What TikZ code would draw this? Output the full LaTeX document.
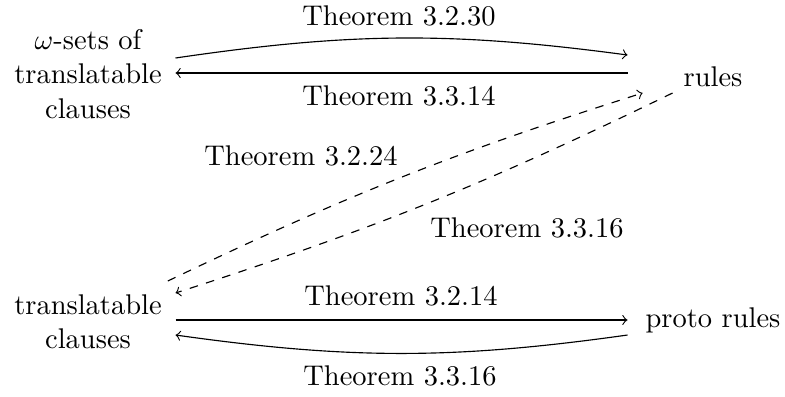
\documentclass[tikz,border=0pt]{standalone}
\usetikzlibrary{calc}
\begin{document}
\begin{tikzpicture}[x=0.351pt,y=-0.351pt,
  obj/.style={align=center,inner sep=3.333pt},
  lbl/.style={inner sep=0pt},
  arr/.style={->},
  darr/.style={->,dashed}]
\useasboundingbox (0,0) rectangle (785,396);
\node[obj] (A) at (88,74) {$\omega$-sets of\\translatable\\clauses};
\node[obj] (R) at (713,77) {rules};
\node[obj] (B) at (88,322) {translatable\\clauses};
\node[obj] (P) at (713,320) {proto rules};
% top
\draw[arr] ($(A.east)+(3.7,-16)$) to[bend left=8] ($(R.west)+(-46,-22)$);
\draw[arr] ($(R.west)+(-46,-4)$) -- ($(A.east)+(3.7,-1)$);
% dashed
\draw[darr] ($(B.east)+(-4,-41)$) to[bend left=4] ($(R.west)+(-31,16)$);
\draw[darr] ($(R.west)+(-1,16)$) to[bend left=4] ($(B.east)+(3.7,-29)$);
% bottom
\draw[arr] ($(B.east)+(3.7,-2)$) -- ($(P.west)+(-8,0)$);
\draw[arr] ($(P.west)+(-8,15)$) to[bend left=8] ($(B.east)+(3.7,13)$);
% labels
\node[lbl] (l1) at (399,16) {Theorem 3.2.30};
\node[lbl] (l2) at (399,96) {Theorem 3.3.14};
\node[lbl] (l3) at (301,156) {Theorem 3.2.24};
\node[lbl] (l4) at (527,228) {Theorem 3.3.16};
\node[lbl] (l5) at (401,296) {Theorem 3.2.14};
\node[lbl] (l6) at (400,376) {Theorem 3.3.16};
\end{tikzpicture}
\end{document}
